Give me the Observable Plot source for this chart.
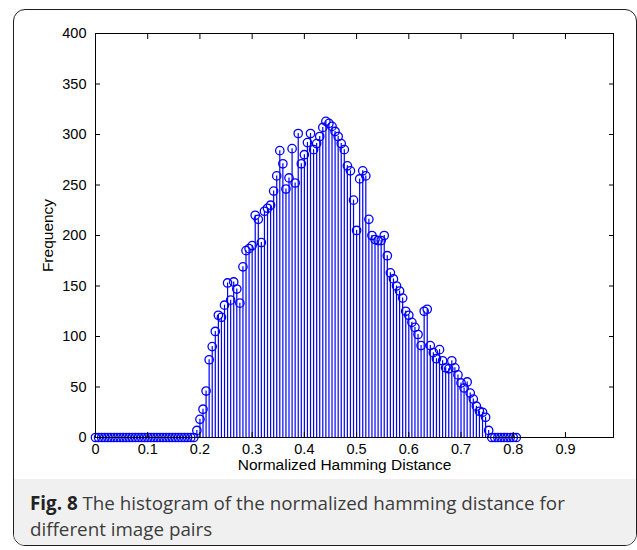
<!DOCTYPE html>
<html>
<head>
<meta charset="utf-8">
<script src="https://cdn.jsdelivr.net/npm/d3@7"></script>
<script src="https://cdn.jsdelivr.net/npm/@observablehq/plot@0.6"></script>
<style>
  html, body { margin: 0; padding: 0; background: #ffffff; }
  body { width: 637px; height: 550px; position: relative; overflow: hidden; }
  #frame { position: absolute; left: 13px; top: 9px; width: 624px; height: 537px; box-sizing: border-box;
           border: 1.3px solid #1e1e1e; border-radius: 12px; overflow: hidden; }
  #caption { position: absolute; left: 0; right: 0; top: 469px; bottom: 0; background: #f0f0f0;
             padding: 11px 6px 0 16px; font-family: "Open Sans", "Noto Sans", sans-serif; font-size: 18.8px;
             line-height: 26px; color: #3c3c3c; white-space: nowrap; }
  #caption b { color: #222; }
  #chart { position: absolute; left: 0; top: 0; }
</style>
</head>
<body>
<div id="frame"><div id="caption"><b>Fig. 8</b> The histogram of the normalized hamming distance for<br>different image pairs</div></div>
<div id="chart"></div>
<script>
// Histogram bin width (normalized Hamming distance) and counts per bin, starting at 0
const binWidth = 1 / 170;
const counts = [
  0,0,0,0,0,0,0,0,0,0, 0,0,0,0,0,0,0,0,0,0, 0,0,0,0,0,0,0,0,0,0, 0,0,0,
  7,18,28,46,77,90,105,121,119,131,
  153,136,154,147,133,169,185,187,190,220,
  216,193,224,227,230,244,259,284,271,246,
  257,286,252,301,271,280,292,301,285,291,
  298,307,313,311,308,303,298,291,285,269,
  264,235,205,256,264,259,216,200,196,195,
  195,200,180,163,157,150,145,138,125,121,
  114,109,102,91,125,127,91,84,78,87,
  76,69,68,76,69,62,54,49,55,44,
  38,31,26,25,20,7,
  0,0,0,0,0,0,0,0,0
];
const xTicks = [0, 0.1, 0.2, 0.3, 0.4, 0.5, 0.6, 0.7, 0.8, 0.9];
const yTicks = [0, 50, 100, 150, 200, 250, 300, 350, 400];
const xDomain = [0, 0.992];
const yDomain = [0, 400];
const xLabel = "Normalized Hamming Distance";
const yLabel = "Frequency";

const data = counts.map((c, i) => ({x: i * binWidth, f: c}));
const blue = "#0000ff";
const fmtX = d => String(Math.round(d * 10) / 10);

const chart = Plot.plot({
  width: 637,
  height: 478,
  marginLeft: 95,
  marginRight: 24,
  marginTop: 33,
  marginBottom: 41,
  style: {fontFamily: "'Liberation Sans', Arial, sans-serif", fontSize: "14px", color: "#000", background: "transparent"},
  x: {domain: xDomain},
  y: {domain: yDomain},
  marks: [
    Plot.ruleX(data, {x: "x", y1: 0, y2: "f", stroke: blue, strokeWidth: 1.2}),
    Plot.dot(data, {x: "x", y: "f", r: 4.2, stroke: blue, fill: "none", strokeWidth: 1.3}),
    Plot.frame({stroke: "#000", strokeWidth: 1}),
    Plot.axisX({anchor: "bottom", ticks: xTicks, tickFormat: fmtX, tickSize: -5, tickPadding: 11, label: null, fontSize: 14.5}),
    Plot.axisX({anchor: "top", ticks: xTicks, tickSize: -5, fill: "none", label: null}),
    Plot.axisY({anchor: "left", ticks: yTicks, tickSize: -5, tickPadding: 14, label: null, fontSize: 14.5}),
    Plot.axisY({anchor: "right", ticks: yTicks, tickSize: -5, fill: "none", label: null}),
    Plot.text([xLabel], {frameAnchor: "bottom", dy: 32, dx: -10, text: d => d, fill: "#000", fontSize: 15.5, textAnchor: "middle"}),
    Plot.text([yLabel], {frameAnchor: "left", dx: -47, rotate: -90, text: d => d, fill: "#000", fontSize: 15.5, textAnchor: "middle"})
  ]
});
document.getElementById("chart").appendChild(chart);
</script>
</body>
</html>
